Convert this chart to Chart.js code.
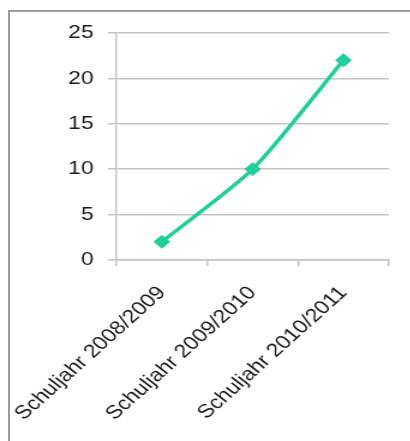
<!DOCTYPE html>
<html>
<head>
<meta charset="utf-8">
<script src="https://cdn.jsdelivr.net/npm/chart.js@4/dist/chart.umd.min.js"></script>
<style>
  body { margin: 0; background: #fff; width: 410px; height: 441px; overflow: hidden; position: relative; }
  #frame { position: absolute; left: 8px; top: 10px; width: 410px; height: 440px;
           border-left: 2px solid #9c9c9c; border-top: 2px solid #9c9c9c; }
  /* the original picture is stretched sideways, so the chart is drawn narrow and scaled */
  #wrap { position: absolute; left: 0; top: 0; width: 342px; height: 441px;
          transform: scaleX(1.2); transform-origin: 0 0; }
</style>
</head>
<body>
<div id="frame"></div>
<div id="wrap"><canvas id="chart"></canvas></div>
<script>
// Data
const categories = ['Schuljahr 2008/2009', 'Schuljahr 2009/2010', 'Schuljahr 2010/2011'];
const values = [2, 10, 22];
const yMin = 0;
const yMax = 25;
const yStep = 5;

const gridColor = '#c4c4c4';
const lineColor = '#1fd09a';
const tickFont = { family: "'Liberation Sans', Arial, sans-serif", size: 19 };

document.addEventListener('DOMContentLoaded', function() {
    var ctx = document.getElementById('chart').getContext('2d');
    new Chart(ctx, {
        type: 'line',
        data: {
            labels: categories,
            datasets: [{
                data: values,
                borderColor: lineColor,
                backgroundColor: lineColor,
                borderWidth: 3.5,
                tension: 0.22,
                pointStyle: 'rectRot',
                pointRadius: 6.5,
                pointBorderWidth: 1,
                pointBackgroundColor: lineColor,
                pointBorderColor: lineColor
            }]
        },
        options: {
            responsive: true,
            maintainAspectRatio: false,
            animation: false,
            layout: { padding: { top: 33, right: 18, bottom: 0, left: 0 } },
            plugins: {
                legend: { display: false },
                tooltip: { enabled: false }
            },
            scales: {
                x: {
                    offset: true,
                    grid: {
                        offset: true,
                        drawOnChartArea: false,
                        drawTicks: true,
                        tickLength: 6,
                        color: gridColor,
                        lineWidth: 1.5
                    },
                    border: { display: true, color: gridColor, width: 1.5 },
                    ticks: {
                        font: tickFont,
                        color: '#1a1a1a',
                        minRotation: 47,
                        maxRotation: 47,
                        padding: 16
                    },
                    afterFit: function(scale) {
                        scale.height = 181;
                        scale.paddingLeft = 0;
                        scale.paddingRight = 0;
                    }
                },
                y: {
                    min: yMin,
                    max: yMax,
                    grid: {
                        color: gridColor,
                        lineWidth: 1.5,
                        drawTicks: true,
                        tickLength: 7
                    },
                    border: { display: true, color: gridColor, width: 1.5 },
                    ticks: {
                        stepSize: yStep,
                        font: tickFont,
                        color: '#1a1a1a',
                        padding: 12
                    },
                    afterFit: function(scale) {
                        scale.width = 97;
                    }
                }
            }
        }
    });
});
</script>
</body>
</html>
